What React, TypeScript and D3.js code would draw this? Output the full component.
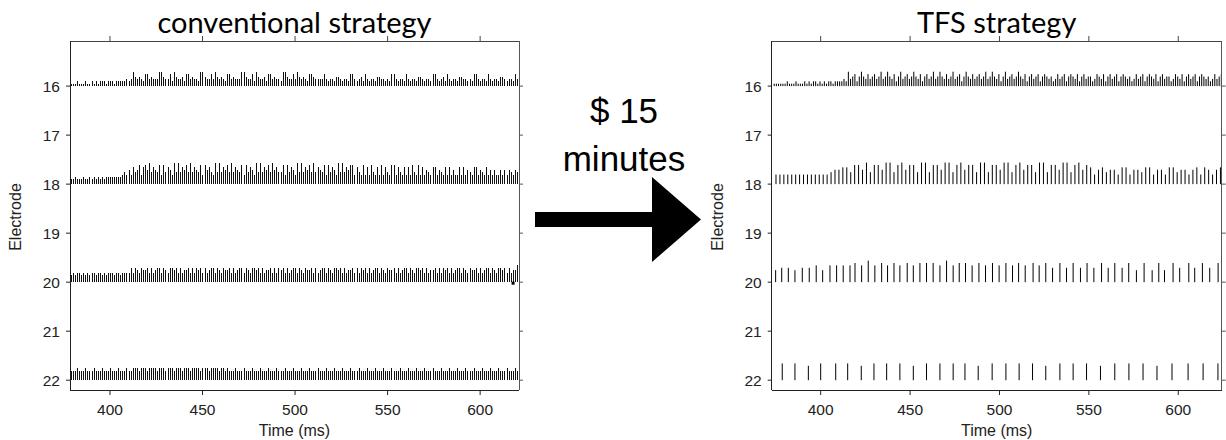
import React from "react";
import * as d3 from "d3";

const width = 1226;
const height = 440;

const timeTicks = [400, 450, 500, 550, 600];
const electrodeTicks = [16, 17, 18, 19, 20, 21, 22];

// conventional strategy: every channel stimulated at the same pulse rate (ms)
const convStart = 379.2;
const convPeriod = 1.11;
// pulse amplitude, one digit per pulse (level 0-9)
const convLevels16 = [
  "111211121121212221222122222323",
  "6434325", "5343336", "643352", "6433425", "5343326", "643353", "6434325",
  "5343336", "643352", "6433425", "5343326", "643353", "6434325", "543333",
  "5323324", "4323325", "532342", "5323324", "4332325", "532332", "5323324",
  "4323325", "532342", "5323324", "4332325", "532332", "5323324", "4323325", "3",
].join("");
const convLevels18 = [
  "22322232232323232333333334", "546475684786",
  "9576584", "8576495", "957685", "9576584", "8675495", "957685", "9576584",
  "8576495", "957685", "9675584", "8576495", "957685", "9576584", "8576495", "95768",
  "8475484", "7485474", "847548", "8475474", "7485484", "746547", "7465474",
  "7464474", "746547", "7465474", "6464464", "646546", "5",
].join("");
const convLevels20 = [
  "34344343434434434344434434444",
  "6465465", "5646456", "646546", "6564645", "5646465", "646456",
  "6465465", "5646456", "646546", "6564645", "5646465", "646456",
  "6465465", "5646456", "646546", "6564645", "5646465", "646456",
  "6465465", "5646456", "646546", "6564645", "5646465", "646456",
  "6465465", "5646456", "646546", "6564645", "57",
].join("");
const convLevels22 = [
  "444544454445444544454445444544",
  "555455545555455545554555455545", "555455545555455",
  "4544454445444544454445444544454445444544",
  "4544454445444544454445444544454445444544",
  "4544454445444544454445444544454445444544",
  "45444544454445444544454",
].join("");
const convMarker = { time: 617.8, electrode: 20 };

// TFS strategy: pulse rate differs per channel
const tfsStart16 = 374;
const tfsPeriod16 = 1.22;
const tfsLevels16 = [
  "1111112111211121212212121221222232",
  "634524", "643534", "534634", "643524", "634534", "643524", "534634",
  "643534", "634524", "643534", "534634", "643524", "634534", "643524",
  "534524", "543423", "534524", "543524", "534423", "543524", "534524",
  "543423", "534524", "543524", "534423", "543524", "534524", "543423",
  "534524", "543524",
].join("");
const tfsStart18 = 375;
const tfsPeriod18 = 2.2;
const tfsLevels18 = [
  "44444444444444566", "775886",
  "958", "869", "958", "968", "859", "958", "869", "958", "968", "859",
  "958", "869", "958", "968", "859", "958", "869", "958", "968",
  "746", "756", "647", "746", "657", "746", "647", "756", "646", "747", "646", "757", "646",
].join("");
const tfsTimes20 = [
  374.8, 378.2, 381.9, 385.6, 389.7, 393.6, 397.5, 401.1, 405.2, 408.9,
  412.6, 416.4, 419.2, 422.9, 426.6, 430.3, 434.1, 437.4, 441.0, 444.3,
  448.4, 451.8, 455.5, 459.2, 462.9, 466.7, 470.4, 474.1, 477.5,
  481.0, 484.7, 488.5, 492.2, 496.1, 499.8, 503.6, 507.3, 510.7, 514.4,
  518.8, 522.2, 525.9, 529.7, 533.8, 537.5, 541.2, 545.3, 549.0, 552.8,
  557.1, 560.8, 564.5, 568.6, 572.3, 576.6, 580.9, 585.4, 589.1, 592.3,
  597.1, 600.8, 605.9, 609.2, 613.5, 617.6, 622.3,
];
const tfsLevels20 = "56656675777787978787878887978" + "8787878787878686868686868585858686868";
const tfsTimes22 = [
  378.5, 385.6, 393.1, 400.0, 408.4, 415.1, 422.7, 429.8, 436.9, 444.3,
  451.8, 459.2, 466.7, 474.1, 480.7, 488.1, 495.9, 503.6, 511.0, 518.5,
  525.9, 533.8, 541.2, 548.7, 556.5, 564.5, 572.4, 580.3, 588.1, 596.5,
  605.5, 613.9, 622.2,
];
const tfsLevels22 = "776777677767777677776777677767777";

type Track = { electrode: number; times: number[]; levels: number[] };

function regularTrack(electrode: number, start: number, period: number, levels: string): Track {
  const lv = levels.split("").map(Number);
  return { electrode, times: lv.map((_, i) => start + i * period), levels: lv };
}

function listedTrack(electrode: number, times: number[], levels: string): Track {
  return { electrode, times, levels: levels.split("").map(Number) };
}

const convTracks = [
  regularTrack(16, convStart, convPeriod, convLevels16),
  regularTrack(18, convStart, convPeriod, convLevels18),
  regularTrack(20, convStart, convPeriod, convLevels20),
  regularTrack(22, convStart, convPeriod, convLevels22),
];

const tfsTracks = [
  regularTrack(16, tfsStart16, tfsPeriod16, tfsLevels16),
  regularTrack(18, tfsStart18, tfsPeriod18, tfsLevels18),
  listedTrack(20, tfsTimes20, tfsLevels20),
  listedTrack(22, tfsTimes22, tfsLevels22),
];

const axisFont = "'Liberation Sans', Arial, sans-serif";

function Panel(props: {
  title: string;
  left: number;
  right: number;
  domain: [number, number];
  tracks: Track[];
  crisp?: boolean;
  marker?: { time: number; electrode: number };
}) {
  const { title, left, right, domain, tracks, crisp, marker } = props;
  const x = d3.scaleLinear().domain(domain).range([left, right]);
  const y = d3.scaleLinear().domain([15.08, 22.2]).range([41, 390]);
  const amp = d3.scaleLinear().domain([0, 9]).range([0, 0.44]);
  const top = 41, bottom = 390;
  const cx = (left + right) / 2;

  return (
    <g>
      {tracks.map((tr) => {
        const p = d3.path();
        tr.times.forEach((t, i) => {
          const lv = tr.levels[i];
          if (!lv || t < domain[0] || t > domain[1]) return;
          const px = x(t);
          p.moveTo(px, y(tr.electrode));
          p.lineTo(px, y(tr.electrode - amp(lv)));
        });
        return (
          <path
            key={tr.electrode}
            d={p.toString()}
            stroke={crisp ? "#111" : "#000"}
            strokeWidth={1}
            fill="none"
            shapeRendering={crisp ? "crispEdges" : undefined}
          />
        );
      })}
      {marker && (
        <rect x={x(marker.time) - 1.5} y={y(marker.electrode) - 0.5} width={3} height={3} fill="#000" />
      )}

      {/* frame */}
      <g shapeRendering="crispEdges" fill="none">
        <line x1={left} x2={right} y1={top} y2={top} stroke="#444" />
        <line x1={right} x2={right} y1={top} y2={bottom} stroke="#555" />
        <line x1={left} x2={left} y1={top} y2={bottom} stroke="#222" />
        <line x1={left} x2={right} y1={bottom} y2={bottom} stroke="#222" />
      </g>

      {/* time ticks bottom and top */}
      {timeTicks.map((t) => (
        <g key={t}>
          <line x1={x(t)} x2={x(t)} y1={bottom} y2={bottom + 5} stroke="#222" />
          <line x1={x(t)} x2={x(t)} y1={top} y2={top - 5} stroke="#444" />
          <text x={x(t)} y={415} textAnchor="middle" fontFamily={axisFont} fontSize={15.5} fill="#222">
            {t}
          </text>
        </g>
      ))}

      {/* electrode ticks left and right */}
      {electrodeTicks.map((e) => (
        <g key={e}>
          <line x1={left - 4} x2={left} y1={y(e)} y2={y(e)} stroke="#222" />
          <line x1={right} x2={right + 4} y1={y(e)} y2={y(e)} stroke="#555" />
          <text x={left - 10} y={y(e)} dy="0.36em" textAnchor="end" fontFamily={axisFont} fontSize={15.5} fill="#222">
            {e}
          </text>
        </g>
      ))}

      <text x={cx} y={436} textAnchor="middle" fontFamily={axisFont} fontSize={16} fill="#222">
        Time (ms)
      </text>
      <text
        transform={`translate(${left - 49},217) rotate(-90)`}
        textAnchor="middle"
        fontFamily={axisFont}
        fontSize={16}
        fill="#222"
      >
        Electrode
      </text>
      <text x={cx} y={33} textAnchor="middle" fontFamily="Lato, 'Open Sans', sans-serif" fontSize={29} fill="#000">
        {title}
      </text>
    </g>
  );
}

export default function App() {
  return (
    <div style={{ position: "absolute", left: 0, top: 0 }}>
      <svg width={width} height={height} style={{ display: "block", background: "#fff" }}>
        <Panel
          title="conventional strategy"
          left={70}
          right={519}
          domain={[378.4, 621]}
          tracks={convTracks}
          crisp
          marker={convMarker}
        />
        <Panel title="TFS strategy" left={771.7} right={1221.7} domain={[372.6, 624.3]} tracks={tfsTracks} />

        {/* transition arrow and label */}
        <path d="M535,212 H652 V177 L701,219.5 L652,262 V227 H535 Z" fill="#000" />
        <text x={624} y={123} textAnchor="middle" fontFamily={axisFont} fontSize={35} fill="#000">
          $ 15
        </text>
        <text x={624} y={171} textAnchor="middle" fontFamily={axisFont} fontSize={35} fill="#000">
          minutes
        </text>
      </svg>
    </div>
  );
}
